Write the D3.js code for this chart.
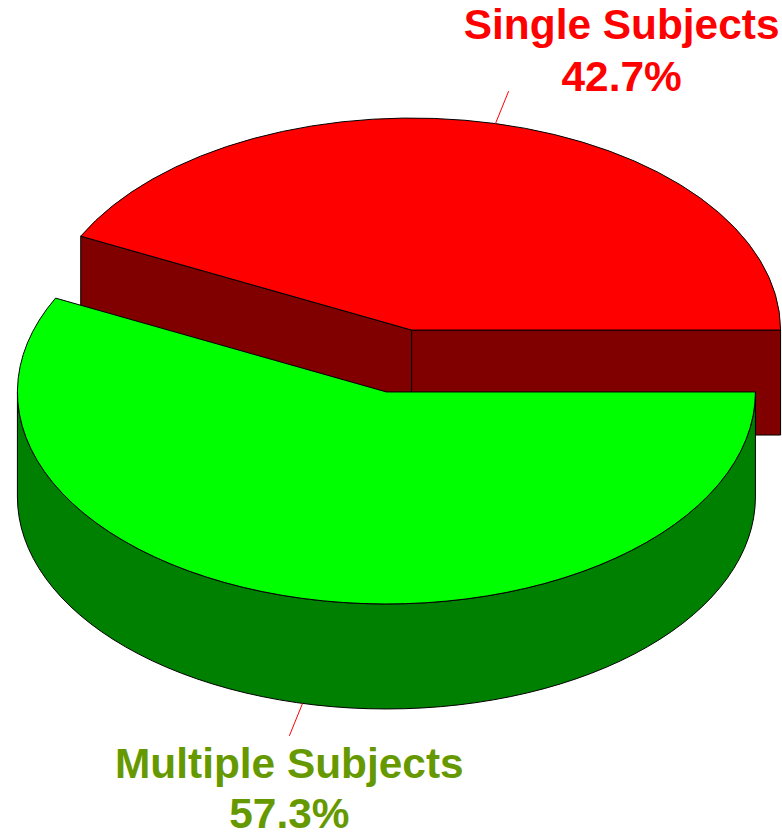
<!DOCTYPE html>
<html>
<head>
<meta charset="utf-8">
<style>
  body { margin: 0; background: #fff; }
  .labels { font-family: "Liberation Sans", Arial, sans-serif; font-weight: bold; font-size: 42.4px; }
</style>
<script src="https://cdnjs.cloudflare.com/ajax/libs/d3/7.8.5/d3.min.js"></script>
</head>
<body>
<svg width="782" height="836"></svg>
<script>
// data
const categories = ["Multiple Subjects", "Single Subjects"];
const shares = [57.3, 42.7];
const percentLabels = ["57.3%", "42.7%"];

const topColors = ["#00ff00", "#ff0000"];
const sideColors = ["#008000", "#800000"];
const labelColors = ["#669900", "#ff0000"];

const width = 782, height = 836;
const cx = 399, cy = 361;     // centre of the unexploded pie
const rx = 369, ry = 212;     // ellipse radii of the top face
const depth = 105;            // thickness of the pie
const explode = 0.15;

const svg = d3.select("svg");

// d3 angle convention: 0 at 12 o'clock, clockwise. start at 3 o'clock.
const pie = d3.pie().sort(null).value(d => d).startAngle(Math.PI / 2).endAngle(Math.PI / 2 + 2 * Math.PI);
const arcs = pie(shares);

arcs.forEach(a => {
  const mid = (a.startAngle + a.endAngle) / 2;
  a.mid = mid;
  a.ox = cx + explode * rx * Math.sin(mid);
  a.oy = cy - explode * ry * Math.cos(mid);
});

function pt(a, ang, dy) {
  return [a.ox + rx * Math.sin(ang), a.oy - ry * Math.cos(ang) + (dy || 0)];
}

function topPath(a) {
  const p0 = pt(a, a.startAngle), p1 = pt(a, a.endAngle);
  const large = (a.endAngle - a.startAngle) > Math.PI ? 1 : 0;
  return "M" + a.ox + "," + a.oy + "L" + p0 + "A" + rx + "," + ry + " 0 " + large + " 1 " + p1 + "Z";
}

function sidePath(a, s, e) {
  const p0 = pt(a, s), p1 = pt(a, e), q1 = pt(a, e, depth), q0 = pt(a, s, depth);
  const large = (e - s) > Math.PI ? 1 : 0;
  return "M" + p0 + "A" + rx + "," + ry + " 0 " + large + " 1 " + p1 +
    "L" + q1 + "A" + rx + "," + ry + " 0 " + large + " 0 " + q0 + "Z";
}

function facePath(a, ang) {
  const p = pt(a, ang), q = pt(a, ang, depth);
  return "M" + a.ox + "," + a.oy + "L" + p + "L" + q + "L" + a.ox + "," + (a.oy + depth) + "Z";
}

// front-facing sides are between PI/2 and 3PI/2 (lower half on screen)
function frontRanges(a) {
  const out = [];
  [[Math.PI / 2, 3 * Math.PI / 2], [Math.PI / 2 + 2 * Math.PI, 3 * Math.PI / 2 + 2 * Math.PI]].forEach(r => {
    const s = Math.max(r[0], a.startAngle), e = Math.min(r[1], a.endAngle);
    if (e > s) out.push([s, e]);
  });
  return out;
}

// cut face visible if it faces the viewer
function faceVisible(ang, isStart) {
  const n = isStart ? ang - Math.PI / 2 : ang + Math.PI / 2;
  return Math.cos(n) < 0;
}

// draw back slice (red) first, then front slice (green)
const order = [1, 0];
const g = svg.append("g");

order.forEach(i => {
  const a = arcs[i];
  const sg = g.append("g");
  [[a.startAngle, true], [a.endAngle, false]].forEach(f => {
    if (faceVisible(f[0], f[1])) {
      sg.append("path").attr("d", facePath(a, f[0]))
        .attr("fill", sideColors[i]).attr("stroke", "#000").attr("stroke-width", 1).attr("stroke-linejoin", "round");
    }
  });
  frontRanges(a).forEach(r => {
    sg.append("path").attr("d", sidePath(a, r[0], r[1]))
      .attr("fill", sideColors[i]).attr("stroke", "#000").attr("stroke-width", 1);
  });
  sg.append("path").attr("d", topPath(a))
    .attr("fill", topColors[i]).attr("stroke", "#000").attr("stroke-width", 1).attr("stroke-linejoin", "round");
});

// leader lines and labels
arcs.forEach((a, i) => {
  const front = Math.cos(a.mid) < 0;
  const start = pt(a, a.mid, front ? depth : 0);
  const dx = rx * Math.sin(a.mid), dy = -ry * Math.cos(a.mid);
  const len = Math.sqrt(dx * dx + dy * dy);
  const end = [start[0] + 35 * dx / len, start[1] + 35 * dy / len];
  svg.append("line")
    .attr("x1", start[0]).attr("y1", start[1])
    .attr("x2", end[0]).attr("y2", end[1])
    .attr("stroke", "#ff0000").attr("stroke-width", 1);

  let tx, y1, y2;
  if (front) { tx = end[0]; y1 = end[1] + 42; y2 = y1 + 50; }
  else { tx = end[0] + 113; y2 = end[1]; y1 = y2 - 52; }

  const t = svg.append("text").attr("class", "labels")
    .attr("text-anchor", "middle").attr("fill", labelColors[i]);
  t.append("tspan").attr("x", tx).attr("y", y1).text(categories[i]);
  t.append("tspan").attr("x", tx).attr("y", y2).text(percentLabels[i]);
});
</script>
</body>
</html>
